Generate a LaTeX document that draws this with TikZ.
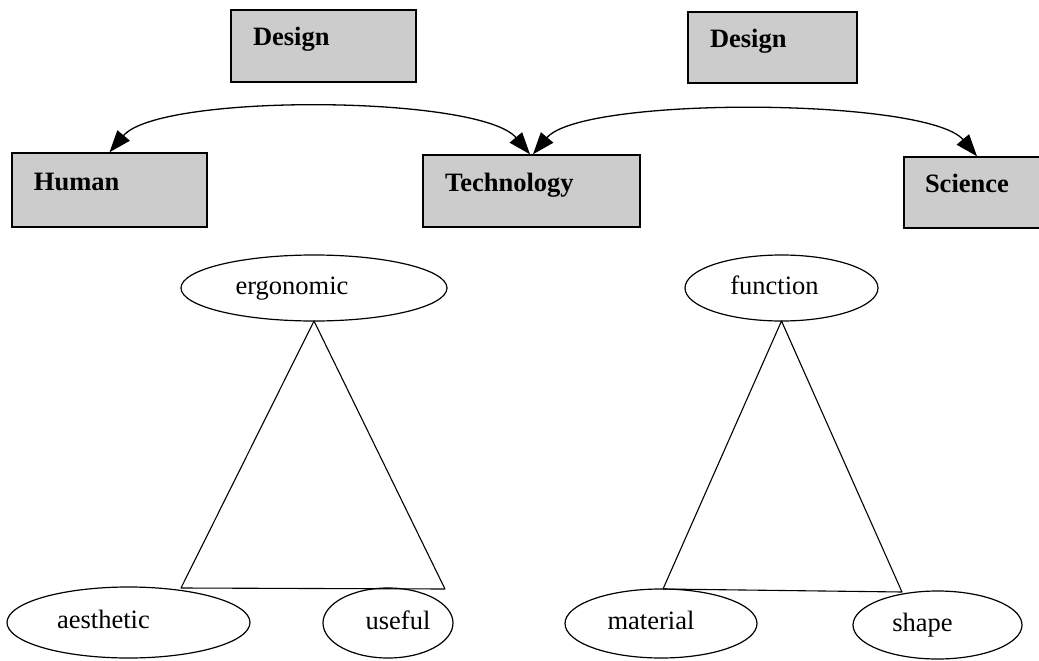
\documentclass[tikz,border=0pt]{standalone}
\usepackage{fontspec}
\setmainfont{Liberation Serif}
\usetikzlibrary{arrows.meta,shapes.geometric}
\tikzset{
  box/.style={draw=black, line width=1.4pt, fill=black!20, rectangle, inner ysep=0pt,
    inner xsep=22pt, align=left, font=\fontsize{26.5}{30}\selectfont\bfseries,
    text height=18pt, text depth=18pt},
  oval/.style={draw=black, line width=1.2pt, ellipse, inner sep=0pt, outer sep=0pt,
    font=\fontsize{26.5}{30}\selectfont, text height=18pt, text depth=6pt},
  link/.style={line width=1.3pt, {Triangle[length=22pt,width=16pt]}-{Triangle[length=22pt,width=16pt]}},
  edge/.style={line width=1.1pt, line cap=round, line join=round}
}
\begin{document}
\begin{tikzpicture}[x=1pt,y=1pt]
\clip (0,0) rectangle (1039,-661);
% boxes
\node[box, minimum width=185pt, minimum height=72pt, text width=141pt] (d1) at (323.5,-46) {Design};
\node[box, minimum width=169pt, minimum height=71pt, text width=125pt] (d2) at (772.5,-47.5) {Design};
\node[box, minimum width=195pt, minimum height=74pt, text width=151pt] (hum) at (109.5,-190) {Human};
\node[box, minimum width=217pt, minimum height=72pt, text width=173pt] (tech) at (531.5,-191) {Technology};
\node[box, minimum width=146pt, minimum height=71pt, inner xsep=21pt, text width=104pt] (sci) at (977,-192.5) {Science};
% arcs
\draw[link] (hum.north) to[out=50,in=130,looseness=0.47] ([xshift=-1.5pt]tech.north);
\draw[link] ([xshift=1.5pt]tech.north) to[out=50,in=130,looseness=0.44] (sci.north);
% ellipses
\node[oval, minimum width=266pt, minimum height=66pt] (erg) at (314,-288) {ergonomic\kern44pt};
\node[oval, minimum width=193pt, minimum height=66pt] (fun) at (781.5,-288) {function\kern14pt};
\node[oval, minimum width=243pt, minimum height=71pt] (aes) at (128.5,-622.5) {aesthetic\kern50pt};
\node[oval, minimum width=130pt, minimum height=70pt] (use) at (388,-623) {\kern20pt useful};
\node[oval, minimum width=192pt, minimum height=69pt] (mat) at (661,-623.5) {material\kern20pt};
\node[oval, minimum width=169pt, minimum height=68pt] (shp) at (937.5,-625) {shape\kern30pt};
% triangle corners
\coordinate (la) at (181,-588);
\coordinate (lb) at (445,-589);
\coordinate (ra) at (663,-589);
\coordinate (rb) at (902,-592);
\draw[edge] (erg.south) -- (la) -- (lb) -- cycle;
\draw[edge] (fun.south) -- (ra) -- (rb) -- cycle;
\end{tikzpicture}
\end{document}
